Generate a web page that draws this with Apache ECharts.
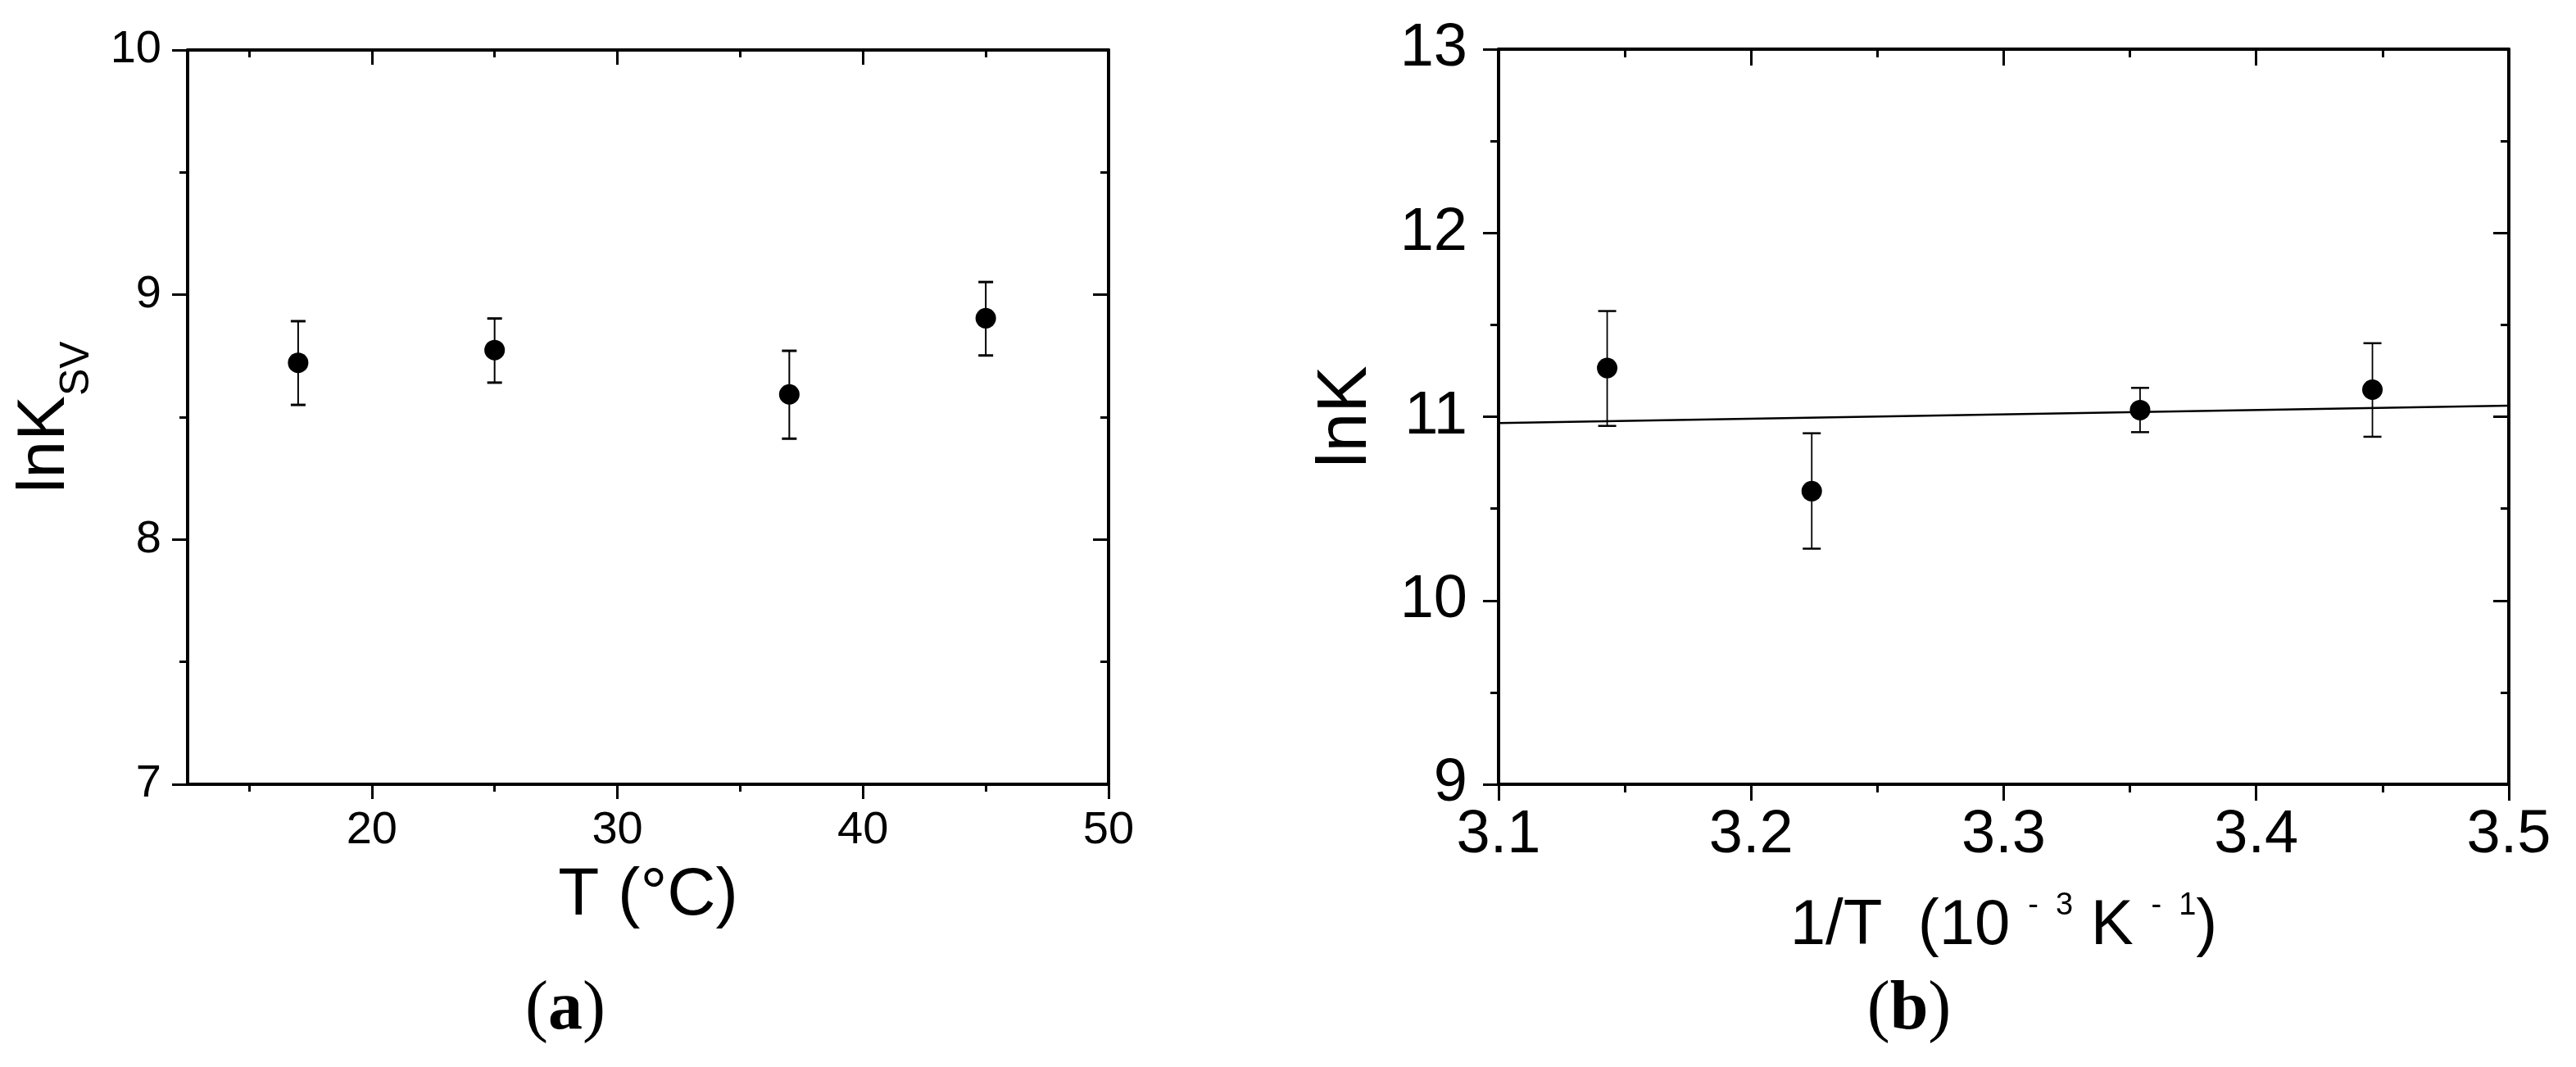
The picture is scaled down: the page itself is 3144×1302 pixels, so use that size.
<!DOCTYPE html>
<html>
<head>
<meta charset="utf-8">
<script src="https://cdn.jsdelivr.net/npm/echarts@6/dist/echarts.min.js"></script>
<style>
  html, body { margin: 0; padding: 0; background: #fff; }
  #chart { width: 3144px; height: 1302px; }
</style>
</head>
<body>
<div id="chart"></div>
<script>
// panel (a): lnKsv vs temperature
const tempC = [17, 25, 37, 45];
const lnKsv = [8.722, 8.774, 8.593, 8.904];
const lnKsvLow = [8.550, 8.641, 8.412, 8.752];
const lnKsvHigh = [8.892, 8.903, 8.771, 9.052];
const tMajorTicks = [20, 30, 40, 50];
const tMinorTicks = [15, 25, 35, 45];

// panel (b): van 't Hoff plot
const invT = [3.143, 3.224, 3.354, 3.446];
const lnK = [11.265, 10.595, 11.036, 11.147];
const lnKLow = [10.950, 10.282, 10.916, 10.891];
const lnKHigh = [11.575, 10.910, 11.157, 11.400];
const fitX = [3.1, 3.5];
const fitY = [10.965, 11.06];

const FONT = 'Liberation Sans';
const black = '#000';

function zip(a, b, c) {
  return a.map((v, i) => (c ? [v, b[i], c[i]] : [v, b[i]]));
}

function errorBars(capHalf, lineW, capW) {
  return function (params, api) {
    const x = api.value(0);
    const lo = api.coord([x, api.value(1)]);
    const hi = api.coord([x, api.value(2)]);
    const st = { stroke: black, lineWidth: lineW };
    const cst = { stroke: black, lineWidth: capW };
    return {
      type: 'group',
      children: [
        { type: 'line', shape: { x1: lo[0], y1: lo[1], x2: hi[0], y2: hi[1] }, style: st },
        { type: 'line', shape: { x1: hi[0] - capHalf, y1: hi[1], x2: hi[0] + capHalf, y2: hi[1] }, style: cst },
        { type: 'line', shape: { x1: lo[0] - capHalf, y1: lo[1], x2: lo[0] + capHalf, y2: lo[1] }, style: cst }
      ]
    };
  };
}

function xAxisA(position, ticks, len, withLine, withLabel) {
  return {
    type: 'value', gridIndex: 0, position: position, min: 12.5, max: 50,
    axisLine: { show: withLine, onZero: false, lineStyle: { color: black, width: 4 } },
    axisTick: { show: true, customValues: ticks, length: len, inside: position === 'top', lineStyle: { color: black, width: 3 } },
    axisLabel: { show: withLabel, customValues: ticks, margin: 29, color: black, fontSize: 56, fontFamily: FONT },
    splitLine: { show: false }
  };
}

function yAxisBase(grid, position, min, max, withLabel, fontSize, margin) {
  return {
    type: 'value', gridIndex: grid, position: position, min: min, max: max, interval: 1,
    axisLine: { show: true, onZero: false, lineStyle: { color: black, width: 4 } },
    axisTick: { show: true, length: 19, inside: position === 'right', lineStyle: { color: black, width: 3 } },
    minorTick: { show: true, splitNumber: 2, length: 10, lineStyle: { color: black, width: 3 } },
    axisLabel: { show: withLabel, margin: margin, color: black, fontSize: fontSize, fontFamily: FONT },
    splitLine: { show: false },
    minorSplitLine: { show: false }
  };
}

function xAxisB(position, withLabel) {
  return {
    type: 'value', gridIndex: 1, position: position, min: 3.1, max: 3.5, interval: 0.1,
    axisLine: { show: true, onZero: false, lineStyle: { color: black, width: 4 } },
    axisTick: { show: true, length: 20, inside: position === 'top', lineStyle: { color: black, width: 3 } },
    minorTick: { show: true, splitNumber: 2, length: 10, lineStyle: { color: black, width: 3 } },
    axisLabel: { show: withLabel, margin: 26, color: black, fontSize: 74, fontFamily: FONT,
      formatter: v => v.toFixed(1) },
    splitLine: { show: false },
    minorSplitLine: { show: false }
  };
}

const chart = echarts.init(document.getElementById('chart'), null, { renderer: 'canvas' });

const xa = xAxisA('bottom', tMajorTicks, 18, true, true);
xa.name = 'T (°C)';
xa.nameLocation = 'middle';
xa.nameGap = 95;
xa.nameTextStyle = { color: black, fontSize: 82, fontFamily: FONT };

const xb = xAxisB('bottom', true);
xb.name = '{m|1/T  (10 }{s|-  3}{m| K }{s|-  1}{m|)}';
xb.nameLocation = 'middle';
xb.nameGap = 130;
xb.nameTextStyle = {
  color: black, fontFamily: FONT,
  rich: {
    m: { fontSize: 78, lineHeight: 82, verticalAlign: 'bottom', fontFamily: FONT, color: black },
    s: { fontSize: 38, lineHeight: 40, verticalAlign: 'top', fontFamily: FONT, color: black }
  }
};

// subscript: main glyphs hug the top of the line box, "SV" hugs the bottom
const ya = yAxisBase(0, 'left', 7, 10, true, 56, 32);
ya.name = '{m|lnK}{s|SV}';
ya.nameLocation = 'middle';
ya.nameRotate = 90;
ya.nameGap = 110;
ya.nameTextStyle = {
  color: black, fontFamily: FONT,
  rich: {
    m: { fontSize: 82, lineHeight: 90, verticalAlign: 'top', fontFamily: FONT, color: black },
    s: { fontSize: 50, lineHeight: 105, verticalAlign: 'bottom', fontFamily: FONT, color: black }
  }
};

const yb = yAxisBase(1, 'left', 9, 13, true, 74, 38);
yb.name = 'lnK';
yb.nameLocation = 'middle';
yb.nameRotate = 90;
yb.nameGap = 141;
yb.nameTextStyle = { color: black, fontSize: 86, lineHeight: 90, fontFamily: FONT };

const option = {
  backgroundColor: '#fff',
  animation: false,
  grid: [
    { left: 229, top: 61, width: 1124, height: 896 },
    { left: 1829, top: 60, width: 1233, height: 897 }
  ],
  xAxis: [
    xa,
    xAxisA('bottom', tMinorTicks, 9, false, false),
    xAxisA('top', tMajorTicks, 18, true, false),
    xAxisA('top', tMinorTicks, 9, false, false),
    xb,
    xAxisB('top', false)
  ],
  yAxis: [
    ya,
    yAxisBase(0, 'right', 7, 10, false, 56, 32),
    yb,
    yAxisBase(1, 'right', 9, 13, false, 74, 38)
  ],
  series: [
    {
      type: 'custom', xAxisIndex: 0, yAxisIndex: 0,
      renderItem: errorBars(9, 2, 3),
      encode: { x: 0, y: [1, 2] },
      data: zip(tempC, lnKsvLow, lnKsvHigh)
    },
    {
      type: 'scatter', xAxisIndex: 0, yAxisIndex: 0, symbol: 'circle', symbolSize: 25,
      itemStyle: { color: black, opacity: 1 }, z: 5,
      data: zip(tempC, lnKsv)
    },
    {
      type: 'line', xAxisIndex: 4, yAxisIndex: 2, showSymbol: false,
      lineStyle: { color: black, width: 2.5 },
      data: zip(fitX, fitY)
    },
    {
      type: 'custom', xAxisIndex: 4, yAxisIndex: 2,
      renderItem: errorBars(11, 1.8, 2.5),
      encode: { x: 0, y: [1, 2] },
      data: zip(invT, lnKLow, lnKHigh)
    },
    {
      type: 'scatter', xAxisIndex: 4, yAxisIndex: 2, symbol: 'circle', symbolSize: 25,
      itemStyle: { color: black, opacity: 1 }, z: 5,
      data: zip(invT, lnK)
    }
  ],
  graphic: [
    {
      type: 'text', x: 690, y: 1233,
      style: {
        text: '{p|(}{b|a}{p|)}', align: 'center', verticalAlign: 'middle',
        rich: {
          p: { fontSize: 84, fontFamily: 'Liberation Serif', fill: black },
          b: { fontSize: 84, fontFamily: 'Liberation Serif', fontWeight: 'bold', fill: black }
        }
      }
    },
    {
      type: 'text', x: 2330, y: 1233,
      style: {
        text: '{p|(}{b|b}{p|)}', align: 'center', verticalAlign: 'middle',
        rich: {
          p: { fontSize: 84, fontFamily: 'Liberation Serif', fill: black },
          b: { fontSize: 84, fontFamily: 'Liberation Serif', fontWeight: 'bold', fill: black }
        }
      }
    }
  ]
};

chart.setOption(option);
</script>
</body>
</html>
